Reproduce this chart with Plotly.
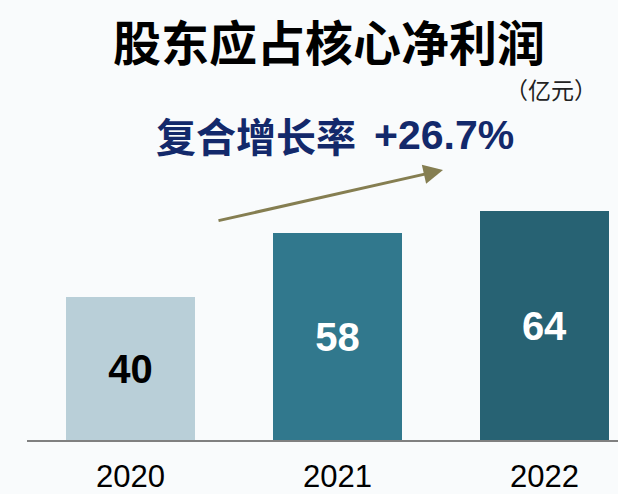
import plotly.graph_objects as go

years = ["2020", "2021", "2022"]
profit = [40, 58, 64]
bar_colors = ["#b9cfd8", "#31788d", "#276273"]
label_colors = ["#000000", "#ffffff", "#ffffff"]

W, H = 618, 494
L, B = 27, 54          # plot area: left edge and bottom margin in px
PW, PH = W - L, H - B  # plot area size


def px_x(x):
    return (x - L) / PW


def px_y(y):
    return (PH - y) / PH


fig = go.Figure()

fig.add_trace(go.Bar(
    x=[0, 1, 2],
    y=profit,
    marker=dict(color=bar_colors, line=dict(width=0)),
    width=0.623,
    text=[str(v) for v in profit],
    textposition="inside",
    insidetextanchor="middle",
    textfont=dict(family="Liberation Sans, Arial", size=40,
                  color=label_colors, weight="bold"),
    textangle=0,
    cliponaxis=False,
))

# title
fig.add_annotation(
    text="<b>股东应占核心净利润</b>",
    xref="paper", yref="paper", x=px_x(329), y=px_y(40),
    xanchor="center", yanchor="middle", showarrow=False,
    font=dict(family="Noto Sans CJK SC", size=48, color="#000000"),
)

# unit
fig.add_annotation(
    text="（亿元）",
    xref="paper", yref="paper", x=px_x(551), y=px_y(89),
    xanchor="center", yanchor="middle", showarrow=False,
    font=dict(family="Noto Sans CJK SC", size=23, color="#222222"),
)

# CAGR text
fig.add_annotation(
    text="<b>复合增长率</b>",
    xref="paper", yref="paper", x=px_x(256), y=px_y(135),
    xanchor="center", yanchor="middle", showarrow=False,
    font=dict(family="Noto Sans CJK SC", size=40, color="#13296b"),
)
fig.add_annotation(
    text="<b>+26.7%</b>",
    xref="paper", yref="paper", x=px_x(444), y=px_y(135),
    xanchor="center", yanchor="middle", showarrow=False,
    font=dict(family="Liberation Sans, Arial", size=41, color="#13296b"),
)

# arrow
fig.add_annotation(
    text="",
    xref="paper", yref="paper", x=px_x(443), y=px_y(170),
    ax=217 - 443, ay=221 - 170,
    showarrow=True, arrowhead=2, arrowsize=1.3, arrowwidth=3,
    arrowcolor="#857e51",
)

fig.update_layout(
    width=W, height=H,
    margin=dict(l=L, r=0, t=0, b=B),
    paper_bgcolor="#f9fbfc",
    plot_bgcolor="rgba(0,0,0,0)",
    showlegend=False,
    bargap=0,
)

fig.update_xaxes(
    range=[-0.5, -0.5 + PW / 207],
    tickvals=[0, 1, 2],
    ticktext=years,
    tickfont=dict(family="Liberation Sans, Arial", size=31, color="#000000"),
    showline=True, linecolor="#808080", linewidth=2,
    ticks="", showgrid=False, zeroline=False,
    ticklabelstandoff=8,
)
fig.update_yaxes(
    range=[0, PH / 3.575],
    visible=False,
)

fig.write_html("out.html", config={"displayModeBar": False},
               post_script="document.body.style.margin='0';")
